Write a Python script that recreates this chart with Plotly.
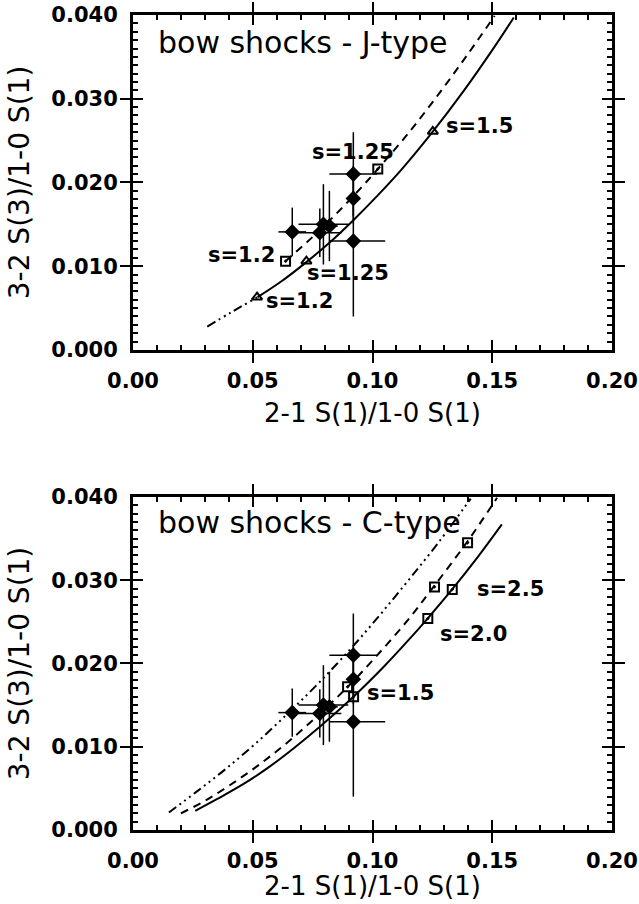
import plotly.graph_objects as go

# observed ratios (same points in both panels)
obs_x = [0.0665, 0.078, 0.0795, 0.082, 0.092, 0.092, 0.092]
obs_y = [0.0141, 0.0140, 0.0150, 0.0148, 0.0210, 0.0181, 0.0130]
obs_xerr_plus = [0.0058, 0.0090, 0.0104, 0.0035, 0.0100, 0.0, 0.0133]
obs_xerr_minus = [0.0058, 0.0090, 0.0104, 0.0035, 0.0100, 0.0, 0.0098]
obs_yerr = [0.0029, 0.0029, 0.0048, 0.0042, 0.0050, 0.0030, 0.0090]

# J-type bow shocks
j_dd_x = [0.031, 0.041, 0.052]
j_dd_y = [0.0028, 0.0045, 0.0063]
j_solid_x = [0.052, 0.062, 0.072, 0.082, 0.092, 0.102, 0.112, 0.125, 0.138, 0.150, 0.159]
j_solid_y = [0.0063, 0.0082, 0.0104, 0.0128, 0.0155, 0.0184, 0.0215, 0.0260, 0.0309, 0.0358, 0.0397]
j_dash_x = [0.0637, 0.075, 0.085, 0.095, 0.1022, 0.115, 0.128, 0.140, 0.151]
j_dash_y = [0.0106, 0.0135, 0.0163, 0.0193, 0.0216, 0.0259, 0.0307, 0.0354, 0.0399]
j_tri_x = [0.0518, 0.0724, 0.1252]
j_tri_y = [0.0063, 0.0106, 0.0261]
j_sq_x = [0.0637, 0.1022]
j_sq_y = [0.0106, 0.0216]

# C-type bow shocks
c_solid_x = [0.026, 0.035, 0.046, 0.056, 0.067, 0.078, 0.092, 0.105, 0.115, 0.123, 0.133, 0.144, 0.154]
c_solid_y = [0.0023, 0.0037, 0.0055, 0.0074, 0.0098, 0.0124, 0.0160, 0.0197, 0.0228, 0.0254, 0.0288, 0.0328, 0.0367]
c_dash_x = [0.020, 0.030, 0.040, 0.052, 0.064, 0.077, 0.090, 0.102, 0.115, 0.126, 0.140, 0.152]
c_dash_y = [0.0020, 0.0035, 0.0053, 0.0077, 0.0104, 0.0137, 0.0173, 0.0210, 0.0253, 0.0294, 0.0348, 0.0399]
c_dd_x = [0.015, 0.027, 0.039, 0.052, 0.065, 0.077, 0.091, 0.103, 0.115, 0.128, 0.141]
c_dd_y = [0.0021, 0.0047, 0.0074, 0.0106, 0.0141, 0.0175, 0.0218, 0.0258, 0.0300, 0.0347, 0.0398]
c_sq_x = [0.0921, 0.1231, 0.1333, 0.0896, 0.1259, 0.1397]
c_sq_y = [0.0160, 0.0254, 0.0289, 0.0172, 0.0292, 0.0345]

fig = go.Figure()

def add_obs(xa, ya):
    fig.add_trace(go.Scatter(
        x=obs_x, y=obs_y, mode="markers", xaxis=xa, yaxis=ya,
        marker=dict(symbol="diamond", size=12, color="black"),
        error_x=dict(type="data", array=obs_xerr_plus, arrayminus=obs_xerr_minus,
                     color="black", thickness=1.5, width=0),
        error_y=dict(type="data", array=obs_yerr, color="black", thickness=1.5, width=0),
        showlegend=False))

def add_line(x, y, dash, xa, ya):
    fig.add_trace(go.Scatter(x=x, y=y, mode="lines", xaxis=xa, yaxis=ya,
                             line=dict(color="black", width=2, dash=dash, shape="spline"),
                             showlegend=False))

def add_marks(x, y, symbol, xa, ya):
    fig.add_trace(go.Scatter(x=x, y=y, mode="markers", xaxis=xa, yaxis=ya,
                             marker=dict(symbol=symbol, size=9, color="black",
                                         line=dict(width=2, color="black")),
                             showlegend=False))

ddd = "9px,4px,2px,4px,2px,4px,2px,4px"

# top panel: J-type
add_line(j_dd_x, j_dd_y, ddd, "x", "y")
add_line(j_solid_x, j_solid_y, "solid", "x", "y")
add_line(j_dash_x, j_dash_y, "8px,6px", "x", "y")
add_obs("x", "y")
add_marks(j_tri_x, j_tri_y, "triangle-up-open", "x", "y")
add_marks(j_sq_x, j_sq_y, "square-open-dot", "x", "y")

# bottom panel: C-type
add_line(c_dd_x, c_dd_y, ddd, "x2", "y2")
add_line(c_dash_x, c_dash_y, "8px,6px", "x2", "y2")
add_line(c_solid_x, c_solid_y, "solid", "x2", "y2")
add_obs("x2", "y2")
add_marks(c_sq_x, c_sq_y, "square-open-dot", "x2", "y2")

# empty traces so the minor-tick overlay axes get drawn
for xa, ya in [("x3", "y"), ("x", "y3"), ("x4", "y2"), ("x2", "y4")]:
    fig.add_trace(go.Scatter(x=[], y=[], xaxis=xa, yaxis=ya, showlegend=False))

lab_font = dict(family="DejaVu Sans", size=21, color="black", weight="bold")
labels = [
    ("x", "y", "s=1.5", 0.130, 0.0267), ("x", "y", "s=1.25", 0.0738, 0.0237),
    ("x", "y", "s=1.2", 0.0304, 0.0113), ("x", "y", "s=1.25", 0.0717, 0.0092),
    ("x", "y", "s=1.2", 0.0549, 0.0058),
    ("x2", "y2", "s=2.5", 0.1427, 0.0289), ("x2", "y2", "s=2.0", 0.1273, 0.0236),
    ("x2", "y2", "s=1.5", 0.097, 0.0164),
]
for xr, yr, txt, x, y in labels:
    fig.add_annotation(text=txt, x=x, y=y, xref=xr, yref=yr, showarrow=False,
                       xanchor="left", yanchor="middle", font=lab_font)

title_font = dict(family="DejaVu Sans", size=30, color="black")
fig.add_annotation(text="bow shocks - J-type", x=0.0097, y=0.0367, xref="x", yref="y",
                   showarrow=False, xanchor="left", yanchor="middle", font=title_font)
fig.add_annotation(text="bow shocks - C-type", x=0.0097, y=0.0369, xref="x2", yref="y2",
                   showarrow=False, xanchor="left", yanchor="middle", font=title_font)

axis_title_font = dict(family="DejaVu Sans", size=28, color="black")
xtitle_font = dict(family="DejaVu Sans", size=26, color="black")
# x axis titles, placed under each panel
fig.add_annotation(text="2-1 S(1)/1-0 S(1)", x=0.5, y=-0.188, xref="x domain",
                   yref="y domain", showarrow=False, xanchor="center", yanchor="middle",
                   font=xtitle_font)
fig.add_annotation(text="2-1 S(1)/1-0 S(1)", x=0.5, y=-0.218, xref="x2 domain",
                   yref="y2 domain", showarrow=False, xanchor="center", yanchor="bottom",
                   font=xtitle_font)

tick_font = dict(family="DejaVu Sans", size=21, color="black", weight="bold")
common = dict(ticks="inside", tickwidth=2, tickcolor="black", showline=True, linewidth=3,
              linecolor="black", mirror="allticks", showgrid=False, zeroline=False,
              tickfont=tick_font, automargin=False, ticklen=10, ticklabeloverflow="allow")
xcommon = dict(common, range=[0, 0.2], tick0=0, dtick=0.05, tickformat=".2f",
               ticklabelstandoff=10)
ycommon = dict(common, range=[0, 0.040], tick0=0, dtick=0.010, tickformat=".3f",
               ticklabelstandoff=8,
               title=dict(text="3-2 S(3)/1-0 S(1)", font=axis_title_font, standoff=14))
minor = dict(ticks="inside", ticklen=5, tickwidth=1.5, tickcolor="black", mirror="allticks",
             showline=False, showgrid=False, zeroline=False, showticklabels=False,
             automargin=False, tick0=0)

fig.update_layout(
    template="none",
    width=639, height=904,
    margin=dict(l=133, r=27, t=15, b=74),
    plot_bgcolor="white", paper_bgcolor="white",
    xaxis=dict(xcommon, domain=[0, 1], anchor="y"),
    yaxis=dict(ycommon, domain=[0.589, 1], anchor="x"),
    xaxis2=dict(xcommon, domain=[0, 1], anchor="y2"),
    yaxis2=dict(ycommon, domain=[0, 0.4086], anchor="x2"),
    xaxis3=dict(minor, range=[0, 0.2], dtick=0.01, overlaying="x", anchor="y"),
    yaxis3=dict(minor, range=[0, 0.040], dtick=0.001, overlaying="y", anchor="x"),
    xaxis4=dict(minor, range=[0, 0.2], dtick=0.01, overlaying="x2", anchor="y2"),
    yaxis4=dict(minor, range=[0, 0.040], dtick=0.001, overlaying="y2", anchor="x2"),
)

# drop the default 8px page margin so the figure sits at the window corner
fig.write_html("out.html", config={"displayModeBar": False},
               post_script="document.body.style.margin = '0px';")
